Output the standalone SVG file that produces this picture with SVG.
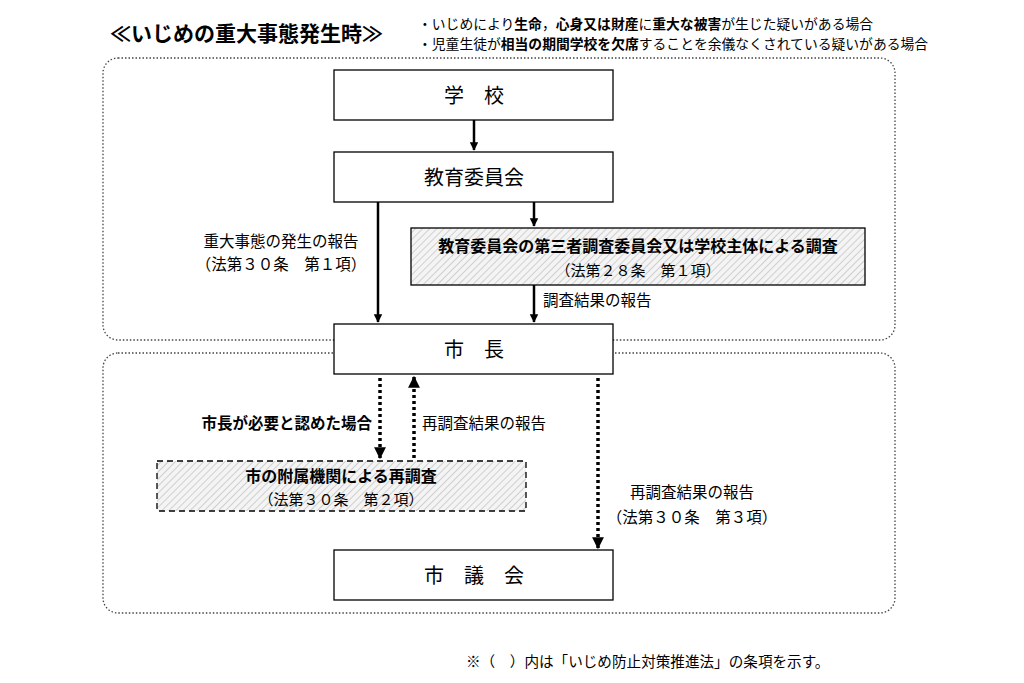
<svg xmlns="http://www.w3.org/2000/svg" width="1024" height="683" viewBox="0 0 1024 683">
<style>
text{font-family:"Noto Sans CJK JP","Liberation Sans",sans-serif;fill:#000}
.b{font-weight:bold}
.box{fill:#fff;stroke:#000;stroke-width:1.3}
.hat{fill:url(#h);stroke:#000;stroke-width:1.3}
.grp{fill:none;stroke:#444;stroke-width:1.3;stroke-dasharray:1.5 2}
.ar{stroke:#000;stroke-width:2.5;fill:none;marker-end:url(#a)}
.dt{stroke:#000;stroke-width:3.5;stroke-dasharray:3 3;fill:none;marker-end:url(#a)}
</style>
<defs>
<pattern id="h" width="5" height="5" patternUnits="userSpaceOnUse" patternTransform="rotate(45)"><rect width="5" height="5" fill="#f4f4f4"/><line x1="0" y1="0" x2="0" y2="5" stroke="#aaa" stroke-width="1"/></pattern>
<marker id="a" viewBox="0 0 10 10" refX="9" refY="5" markerWidth="3.4" markerHeight="3.4" orient="auto" markerUnits="strokeWidth"><path d="M0,0L10,5L0,10z" fill="#000"/></marker>
</defs>
<rect width="1024" height="683" fill="#fff"/>
<text x="110" y="41" font-size="21" class="b">≪いじめの重大事態発生時≫</text>
<text x="418" y="29" font-size="13.8">・いじめにより<tspan class="b">生命</tspan>，<tspan class="b">心身又は財産</tspan>に<tspan class="b">重大な被害</tspan>が生じた疑いがある場合</text>
<text x="418" y="49" font-size="13.8">・児童生徒が<tspan class="b">相当の期間学校を欠席</tspan>することを余儀なくされている疑いがある場合</text>
<rect class="grp" x="103" y="58" width="792" height="282" rx="15"/>
<rect class="grp" x="103" y="353" width="792" height="260" rx="15"/>
<g id="connectors">
<line class="ar" x1="474" y1="120" x2="474" y2="150"/>
<line class="ar" x1="534" y1="202" x2="534" y2="226"/>
<line class="ar" x1="378" y1="202" x2="378" y2="322"/>
<line class="ar" x1="534" y1="285" x2="534" y2="322"/>
<line class="dt" x1="380" y1="378" x2="380" y2="458"/>
<line class="dt" x1="414" y1="458" x2="414" y2="377"/>
<line class="dt" x1="598" y1="378" x2="598" y2="548"/>
<text x="281" y="247" font-size="15.5" text-anchor="middle">重大事態の発生の報告</text>
<text x="281" y="270" font-size="15.5" text-anchor="middle">（法第３０条　第１項）</text>
<text x="543" y="306" font-size="15.5">調査結果の報告</text>
<text x="372" y="429" font-size="15.5" class="b" text-anchor="end">市長が必要と認めた場合</text>
<text x="422" y="429" font-size="15.5">再調査結果の報告</text>
<text x="692" y="498" font-size="15.5" text-anchor="middle">再調査結果の報告</text>
<text x="692" y="523" font-size="15.5" text-anchor="middle">（法第３０条　第３項）</text>
</g>
<g id="school"><rect class="box" x="334" y="70" width="279" height="50"/><text x="474" y="103" font-size="20" text-anchor="middle">学　校</text></g>
<g id="boe"><rect class="box" x="334" y="152" width="279" height="50"/><text x="474" y="185" font-size="20" text-anchor="middle">教育委員会</text></g>
<g id="survey"><rect class="hat" x="411" y="228" width="454" height="57"/><text x="638" y="252" font-size="16" class="b" text-anchor="middle">教育委員会の第三者調査委員会又は学校主体による調査</text><text x="638" y="276" font-size="15" text-anchor="middle">（法第２８条　第１項）</text></g>
<g id="mayor"><rect class="box" x="334" y="324" width="279" height="50"/><text x="474" y="357" font-size="20" text-anchor="middle">市　長</text></g>
<g id="resurvey"><rect class="hat" x="157" y="461" width="369" height="50" stroke-dasharray="6 4"/><text x="341" y="482" font-size="16" class="b" text-anchor="middle">市の附属機関による再調査</text><text x="341" y="505" font-size="15" text-anchor="middle">（法第３０条　第２項）</text></g>
<g id="council"><rect class="box" x="334" y="550" width="279" height="50"/><text x="474" y="583" font-size="20" text-anchor="middle">市　議　会</text></g>
<text x="466" y="667" font-size="14.6">※（　）内は「いじめ防止対策推進法」の条項を示す。</text>
</svg>
